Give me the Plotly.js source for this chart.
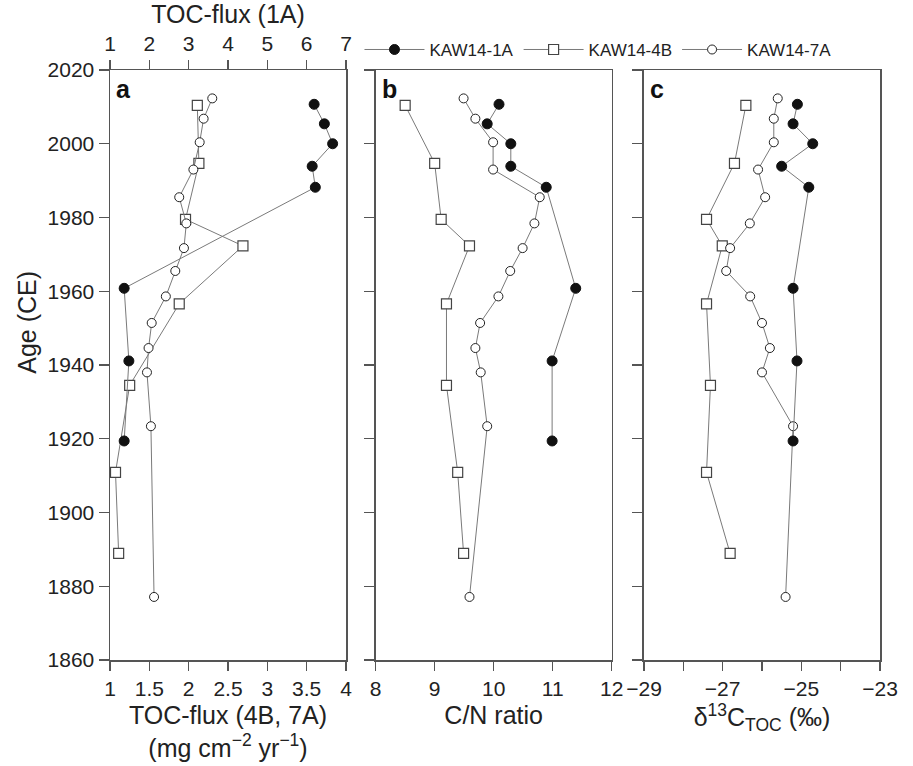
<!DOCTYPE html>
<html>
<head>
<meta charset="utf-8">
<script src="https://cdn.plot.ly/plotly-3.0.1.min.js"></script>
<style>html,body{margin:0;padding:0;background:#fff;}#chart{width:913px;height:766px;}</style>
</head>
<body>
<div id="chart"></div>
<script>
// ---- Data ----
const seriesNames = ["KAW14-1A", "KAW14-4B", "KAW14-7A"];

const years1A = [2010.7, 2005.4, 2000.0, 1993.9, 1988.2, 1960.8, 1941.1, 1919.4];
const toc1A   = [6.19, 6.45, 6.66, 6.14, 6.22, 1.36, 1.48, 1.36];
const cn1A    = [10.09, 9.89, 10.29, 10.29, 10.89, 11.39, 10.99, 10.99];
const d13C1A  = [-25.10, -25.21, -24.71, -25.50, -24.81, -25.21, -25.11, -25.21];

const years4B = [2010.4, 1994.7, 1979.5, 1972.3, 1956.6, 1934.5, 1910.9, 1888.9];
const toc4B   = [2.11, 2.13, 1.96, 2.69, 1.88, 1.25, 1.07, 1.11];
const cn4B    = [8.50, 9.00, 9.11, 9.59, 9.20, 9.20, 9.39, 9.49];
const d13C4B  = [-26.41, -26.70, -27.41, -27.01, -27.41, -27.31, -27.41, -26.81];

const years7A = [2012.3, 2006.8, 2000.4, 1993.0, 1985.5, 1978.4, 1971.7, 1965.5, 1958.6, 1951.4, 1944.6, 1938.0, 1923.4, 1877.1];
const toc7A   = [2.30, 2.19, 2.14, 2.06, 1.88, 1.97, 1.94, 1.83, 1.71, 1.53, 1.49, 1.47, 1.52, 1.56];
const cn7A    = [9.49, 9.69, 9.99, 9.99, 10.78, 10.69, 10.49, 10.28, 10.08, 9.77, 9.69, 9.78, 9.89, 9.59];
const d13C7A  = [-25.60, -25.70, -25.70, -26.10, -25.92, -26.31, -26.81, -26.91, -26.30, -26.00, -25.80, -26.00, -25.21, -25.40];

const panelLabels = ["a", "b", "c"];

// ---- Styles ----
const FONT = "Liberation Sans, Arial, sans-serif";
const lineStyle = {color: "#7a7a7a", width: 1};
const mk1A = {symbol: "circle", size: 10, color: "#111", line: {color: "#111", width: 1}};
const mk4B = {symbol: "square", size: 10, color: "#fff", line: {color: "#444", width: 1.2}};
const mk7A = {symbol: "circle", size: 9, color: "#fff", line: {color: "#222", width: 1}};

function tr(x, y, name, marker, xa, ya, show) {
  return {x: x, y: y, name: name, type: "scatter", mode: "lines+markers",
          line: lineStyle, marker: marker, xaxis: xa, yaxis: ya,
          showlegend: show, hoverinfo: "skip"};
}

const data = [
  // panel a
  tr(toc4B, years4B, seriesNames[1], mk4B, "x", "y", false),
  tr(toc7A, years7A, seriesNames[2], mk7A, "x", "y", false),
  tr(toc1A, years1A, seriesNames[0], mk1A, "x4", "y", false),
  // panel b (legend)
  tr(cn1A, years1A, seriesNames[0], mk1A, "x2", "y2", true),
  tr(cn4B, years4B, seriesNames[1], mk4B, "x2", "y2", true),
  tr(cn7A, years7A, seriesNames[2], mk7A, "x2", "y2", true),
  // panel c
  tr(d13C4B, years4B, seriesNames[1], mk4B, "x3", "y3", false),
  tr(d13C7A, years7A, seriesNames[2], mk7A, "x3", "y3", false),
  tr(d13C1A, years1A, seriesNames[0], mk1A, "x3", "y3", false)
];

const frameColor = "#555";
const tickFont = {family: FONT, size: 21, color: "#222"};
const titleFont = {family: FONT, size: 25, color: "#222"};

function xAx(domain, range, dtick, title, extra) {
  return Object.assign({
    domain: domain, range: range, dtick: dtick, tick0: range[0],
    showgrid: false, zeroline: false, showline: true, mirror: true,
    linecolor: frameColor, linewidth: 1.5,
    ticks: "outside", ticklen: 9, tickwidth: 1.2, tickcolor: frameColor,
    tickfont: tickFont, fixedrange: true,
    title: {text: title, font: titleFont, standoff: 8}
  }, extra || {});
}
function yAx(anchor, labels) {
  return {
    anchor: anchor, range: [1860, 2020], dtick: 20, tick0: 1860,
    showgrid: false, zeroline: false, showline: true, mirror: true,
    linecolor: frameColor, linewidth: 1.5,
    ticks: "outside", ticklen: 10, tickwidth: 1.2, tickcolor: frameColor,
    showticklabels: labels, tickfont: tickFont, fixedrange: true
  };
}

const dA = [0, 0.3065], dB = [0.345, 0.6516], dC = [0.6935, 1];

const layout = {
  width: 913, height: 766,
  margin: {l: 110, r: 33, t: 70, b: 106},
  paper_bgcolor: "#fff", plot_bgcolor: "#fff",
  font: {family: FONT, color: "#222"},
  xaxis: xAx(dA, [1, 4], 0.5, "TOC-flux (4B, 7A)<br>(mg cm<sup>−2</sup> yr<sup>−1</sup>)", {anchor: "y"}),
  xaxis2: xAx(dB, [8, 12], 1, "C/N ratio", {anchor: "y2"}),
  xaxis3: xAx(dC, [-29, -23], 2, "δ<sup>13</sup>C<sub>TOC</sub> (‰)",
              {anchor: "y3", minor: {dtick: 1, ticks: "outside", ticklen: 9, tickwidth: 1.2, tickcolor: frameColor}}),
  xaxis4: xAx(dA, [1, 7], 1, "TOC-flux (1A)", {overlaying: "x", side: "top", anchor: "y", mirror: false}),
  yaxis: yAx("x", true),
  yaxis2: yAx("x2", false),
  yaxis3: yAx("x3", false),
  showlegend: true,
  legend: {orientation: "h", x: 0.324, y: 1.034, xanchor: "left", yanchor: "middle",
           font: {family: FONT, size: 17, color: "#222"}, bgcolor: "rgba(0,0,0,0)",
           itemwidth: 60, tracegroupgap: 0},
  annotations: [
    {text: "Age (CE)", textangle: -90, xref: "paper", yref: "paper", x: -0.108, y: 0.573,
     showarrow: false, font: titleFont, xanchor: "center", yanchor: "middle"},
    {text: "<b>" + panelLabels[0] + "</b>", xref: "paper", yref: "paper", x: 0.005, y: 0.995,
     xanchor: "left", yanchor: "top", showarrow: false, font: {family: FONT, size: 25, color: "#111"}},
    {text: "<b>" + panelLabels[1] + "</b>", xref: "paper", yref: "paper", x: 0.35, y: 0.995,
     xanchor: "left", yanchor: "top", showarrow: false, font: {family: FONT, size: 25, color: "#111"}},
    {text: "<b>" + panelLabels[2] + "</b>", xref: "paper", yref: "paper", x: 0.6985, y: 0.995,
     xanchor: "left", yanchor: "top", showarrow: false, font: {family: FONT, size: 25, color: "#111"}}
  ]
};

Plotly.newPlot("chart", data, layout, {displayModeBar: false, staticPlot: true});
</script>
</body>
</html>
